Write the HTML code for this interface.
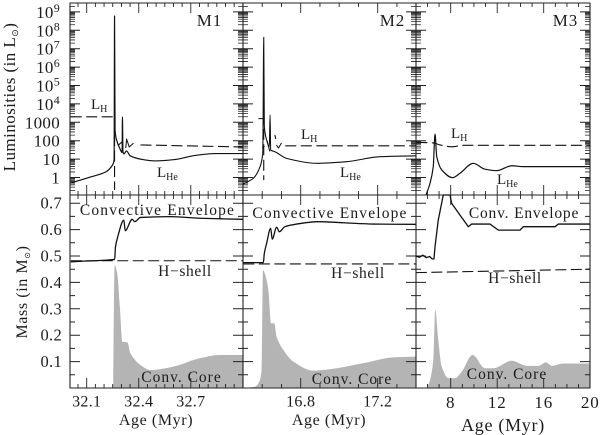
<!DOCTYPE html>
<html lang="en">
<head>
<meta charset="utf-8">
<title>Stellar luminosity and mass evolution</title>
<style>
html,body{margin:0;padding:0;background:#fff;width:600px;height:435px;overflow:hidden}
svg{display:block;position:absolute;left:0;top:0}
text{font-family:"Liberation Serif",serif;fill:#1c1c1c}
</style>
</head>
<body>
<svg id="chart" width="600" height="435" viewBox="0 0 600 435" xmlns="http://www.w3.org/2000/svg"></svg>
<script>
/* ---------- tick data ---------- */
const lumPowers = [0,1,2,3,4,5,6,7,8,9];
const lumLabels = ["1","10","100","1000","10|4","10|5","10|6","10|7","10|8","10|9"];
const massMajor = [0.1,0.2,0.3,0.4,0.5,0.6,0.7];
const m1XLabels = [32.1,32.4,32.7];
const m2XLabels = [16.8,17.2];
const m3XLabels = [8,12,16,20];

/* ---------- M1 series (log L in Lsun, mass in Msun, age in Myr) ---------- */
const m1HeAge = [32.008,32.123,32.209,32.249,32.258,32.2606,32.2634,32.272,32.295,32.304,32.306,32.309,32.315,32.329,32.352,32.41,32.496,32.61,32.725,32.84,33.0];
const m1HeLog = [-0.30,0.03,0.30,0.68,0.95,8.78,2.58,2.04,1.49,1.35,3.29,1.40,1.28,1.44,1.17,1.0,0.9,0.98,1.2,1.3,1.3];
const m1HAge = [32.008,32.2606,32.2606,null,32.281,32.306,null,32.41,33.0];
const m1HLog = [3.30,3.30,-0.68,null,1.75,1.95,null,1.77,1.66];
const m1LoopAge = [32.325,32.33,32.345,32.37];
const m1LoopLog = [1.6,2.09,1.66,1.87];
const m1EnvAge = [32.008,32.1,32.2,32.261,32.266,32.279,32.314,32.322,32.362,32.377,32.41,32.582,32.754,33.0];
const m1EnvMass = [0.478,0.481,0.484,0.487,0.535,0.573,0.636,0.596,0.639,0.630,0.646,0.649,0.643,0.639];
const m1ShellAge = [32.008,33.0];
const m1ShellMass = [0.482,0.482];
const m1CoreAge = [32.253,32.261,32.276,32.291,32.306,32.335,32.352,32.41,32.467,32.599,32.754,32.868,33.0];
const m1CoreMass = [0,0.466,0.434,0.308,0.175,0.173,0.131,0.087,0.068,0.081,0.113,0.125,0.125];

/* ---------- M2 series ---------- */
const m2HeAge = [16.502,16.554,16.589,16.603,16.608,16.611,16.623,16.637,16.641,16.644,16.652,16.666,16.727,16.883,17.039,17.212,17.399];
const m2HeLog = [-0.35,-0.04,0.59,1.32,7.62,2.76,2.04,1.67,3.4,1.49,1.45,1.4,1.04,0.77,0.86,1.13,1.18];
const m2HAge = [16.58,16.608,16.608,null,16.60,16.612,null,16.625,16.64,null,16.666,16.67,null,16.72,17.399];
const m2HLog = [3.2,3.2,-0.14,null,1.6,1.7,null,2.0,1.4,null,2.31,2.09,null,1.72,1.72];
const m2LoopAge = [16.674,16.685,16.70];
const m2LoopLog = [1.77,1.6,1.88];
const m2EnvAge = [16.502,16.606,16.611,16.623,16.644,16.652,16.675,16.689,16.718,16.779,16.891,17.021,17.177,17.399];
const m2EnvMass = [0.475,0.475,0.51,0.548,0.605,0.564,0.609,0.592,0.611,0.621,0.63,0.626,0.621,0.62];
const m2ShellAge = [16.502,17.399];
const m2ShellMass = [0.47,0.47];
const m2CoreAge = [16.5,16.563,16.585,16.597,16.604,16.616,16.632,16.646,16.663,16.675,16.71,16.762,16.865,16.952,17.125,17.281,17.399];
const m2CoreMass = [0,0.005,0.024,0.068,0.447,0.428,0.371,0.245,0.245,0.194,0.144,0.1,0.066,0.071,0.094,0.116,0.119];

/* ---------- M3 series ---------- */
const m3HeAge = [5.875,6.22,6.5,6.65,6.8,7.23,8.17,8.8,9.94,10.95,11.96,13.25,14.25,20];
const m3HeLog = [-0.95,-0.32,0.59,2.36,1.13,0.41,-0.01,0.23,0.77,0.45,0.37,0.64,0.59,0.59];
const m3HAge = [5.05,6.5,7.08,8.09,9.08,20];
const m3HLog = [1.91,1.88,1.77,1.67,1.75,1.75];
const m3EnvAge = [5.0,5.3,5.6,5.9,6.2,6.4,6.56,6.65,6.93,7.36,7.94,8.08,8.8,9.52,9.8,11.38,12.1,13.96,14.25,16.97,17.26,20];
const m3EnvMass = [0.5,0.495,0.503,0.494,0.498,0.489,0.489,0.535,0.636,0.731,0.731,0.70,0.655,0.611,0.621,0.621,0.598,0.598,0.611,0.611,0.621,0.621];
const m3ShellAge = [5.0,20];
const m3ShellMass = [0.437,0.45];
const m3CoreAge = [5.93,6.22,6.5,6.67,6.93,7.23,7.8,8.37,8.95,9.89,10.95,11.66,13.25,14.54,15.53,16.2,16.69,17.69,20];
const m3CoreMass = [0,0.03,0.106,0.295,0.182,0.081,0.037,0.037,0.062,0.125,0.075,0.075,0.103,0.084,0.084,0.097,0.084,0.093,0.093];

/* ---------- axis functions ---------- */
const xM1 = a => 86.7 + (a - 32.1) * 173.5;
const xM2 = a => 300.7 + (a - 16.8) * 192.5;
const xM3 = a => 450.7 + (a - 8) * 11.625;
const yLum = v => 177.5 - v * 18.4;
const yMass = m => 388 - m * 264;

const svg = document.getElementById('chart');
const NS = 'http://www.w3.org/2000/svg';

function addPath(d, name, stroke, width, dash, fill) {
  const el = document.createElementNS(NS, 'path');
  
  
  el.setAttribute('d', d);
  el.setAttribute('stroke', stroke);
  el.setAttribute('stroke-width', width);
  el.setAttribute('fill', fill || 'none');
  el.setAttribute('stroke-linejoin', 'round');
  if (dash) el.setAttribute('stroke-dasharray', dash);
  svg.appendChild(el);
  return el;
}
function addText(x, y, str, size, anchor, name, spacing) {
  const el = document.createElementNS(NS, 'text');
  
  
  el.setAttribute('x', x);
  el.setAttribute('y', y);
  el.setAttribute('font-size', size);
  el.setAttribute('text-anchor', anchor);
  if (spacing) el.setAttribute('letter-spacing', spacing);
  el.textContent = str;
  svg.appendChild(el);
  return el;
}
function addSub(parent, str, size, dy) {
  const el = document.createElementNS(NS, 'tspan');
  el.setAttribute('font-size', size);
  el.setAttribute('dy', dy);
  el.textContent = str;
  parent.appendChild(el);
  return el;
}
function linePath(xs, ys, sx, sy) {
  let d = '', pen = false;
  xs.forEach((a, i) => {
    if (a === null) { pen = false; return; }
    d += (pen ? 'L' : 'M') + sx(a).toFixed(2) + ' ' + sy(ys[i]).toFixed(2);
    pen = true;
  });
  return d;
}
/* monotone cubic through the data points: smooth, with no overshoot at spikes */
function smoothPath(xs, ys, sx, sy) {
  const px = xs.map(sx), py = ys.map(sy), n = px.length;
  const slope = [], tan = [];
  for (let i = 0; i < n - 1; i++) slope.push((py[i + 1] - py[i]) / (px[i + 1] - px[i]));
  for (let i = 0; i < n; i++) {
    if (i === 0) tan.push(slope[0]);
    else if (i === n - 1) tan.push(slope[n - 2]);
    else if (slope[i - 1] * slope[i] <= 0) tan.push(0);
    else {
      const a = Math.abs(slope[i - 1]), b = Math.abs(slope[i]);
      tan.push(Math.sign(slope[i]) * 2 * a * b / (a + b));
    }
  }
  let d = 'M' + px[0].toFixed(2) + ' ' + py[0].toFixed(2);
  for (let i = 0; i < n - 1; i++) {
    const h = (px[i + 1] - px[i]) / 3;
    d += 'C' + (px[i] + h).toFixed(2) + ' ' + (py[i] + tan[i] * h).toFixed(2) + ' ' +
         (px[i + 1] - h).toFixed(2) + ' ' + (py[i + 1] - tan[i + 1] * h).toFixed(2) + ' ' +
         px[i + 1].toFixed(2) + ' ' + py[i + 1].toFixed(2);
  }
  return d;
}
function corePath(xs, ys, sx, sy, endAge) {
  return smoothPath(xs, ys, sx, sy) + 'L' + sx(endAge).toFixed(2) + ' ' + sy(0) + 'L' + sx(xs[0]).toFixed(2) + ' ' + sy(0) + 'Z';
}

/* ---------- fills first ---------- */
addPath(corePath(m1CoreAge, m1CoreMass, xM1, yMass, 33.0), 'm1-convective-core', 'none', 0, null, '#b4b4b4');
addPath(corePath(m2CoreAge, m2CoreMass, xM2, yMass, 17.399), 'm2-convective-core', 'none', 0, null, '#b4b4b4');
addPath(corePath(m3CoreAge, m3CoreMass, xM3, yMass, 20), 'm3-convective-core', 'none', 0, null, '#b4b4b4');

/* ---------- frames and ticks ---------- */
const L = 70, B1 = 243, B2 = 416, R = 590, T = 3, MID = 195, BOT = 388;
addPath(`M${L} ${T}H${R}V${BOT}H${L}Z`, 'plot-frame', '#222', 1.1);
addPath(`M${L} ${MID}H${R}`, 'panel-divider-horizontal', '#222', 1.1);
addPath(`M${B1} ${T}V${BOT}M${B2} ${T}V${BOT}`, 'panel-dividers-vertical', '#222', 1.1);

let lumMinor = '', lumMaj = '';
[L, B1, B2, R].forEach((x, idx) => {
  lumPowers.concat([-1]).forEach(p => {
    const y = yLum(p);
    if (p >= 0) {
      if (idx < 3) lumMaj += `M${x} ${y}h10`;
      if (idx > 0) lumMaj += `M${x} ${y}h-10`;
    }
    for (let k = 2; k <= 9; k++) {
      const ym = yLum(p + Math.log10(k));
      if (ym < T || ym > MID) continue;
      if (idx < 3) lumMinor += `M${x} ${ym.toFixed(2)}h5`;
      if (idx > 0) lumMinor += `M${x} ${ym.toFixed(2)}h-5`;
    }
  });
});
addPath(lumMinor, 'luminosity-minor-ticks', '#222', 0.8);
addPath(lumMaj, 'luminosity-major-ticks', '#222', 1);

let massT = '';
[L, B1, B2, R].forEach((x, idx) => {
  for (let i = 1; i <= 14; i++) {
    const m = i * 0.05, y = yMass(m), len = i % 2 === 0 ? 10 : 5;
    if (idx < 3) massT += `M${x} ${y.toFixed(2)}h${len}`;
    if (idx > 0) massT += `M${x} ${y.toFixed(2)}h-${len}`;
  }
});
addPath(massT, 'mass-ticks', '#222', 1);

function xTicks(sx, start, end, step, majorEvery, phase, name) {
  let d = '';
  const n = Math.round((end - start) / step);
  for (let i = 0; i <= n; i++) {
    const x = sx(start + i * step).toFixed(2);
    const len = (i - phase) % majorEvery === 0 ? 10 : 4;
    d += `M${x} ${T}v${len}M${x} ${MID}v-${len}M${x} ${MID}v${len}M${x} ${BOT}v-${len}`;
  }
  addPath(d, name, '#222', 0.9);
}
xTicks(xM1, 32.05, 33.0, 0.05, 6, 1, 'm1-age-ticks');
xTicks(xM2, 16.6, 17.3, 0.1, 4, 2, 'm2-age-ticks');
xTicks(xM3, 6, 19, 1, 4, 2, 'm3-age-ticks');

/* ---------- series ---------- */
const DASH = '11 4.5';
addPath(linePath(m1HAge, m1HLog, xM1, yLum), 'm1-hydrogen-luminosity-line', '#111', 1.1, DASH);
addPath(linePath(m1LoopAge, m1LoopLog, xM1, yLum), 'm1-hydrogen-luminosity-loop', '#111', 1);
addPath(smoothPath(m1HeAge, m1HeLog, xM1, yLum), 'm1-helium-luminosity-line', '#111', 1.2);
addPath(linePath(m1ShellAge, m1ShellMass, xM1, yMass), 'm1-h-shell-line', '#111', 1.1, DASH);
addPath(smoothPath(m1EnvAge, m1EnvMass, xM1, yMass), 'm1-convective-envelope-line', '#111', 1.3);

addPath(linePath(m2HAge, m2HLog, xM2, yLum), 'm2-hydrogen-luminosity-line', '#111', 1.1, DASH);
addPath(linePath(m2LoopAge, m2LoopLog, xM2, yLum), 'm2-hydrogen-luminosity-loop', '#111', 1);
addPath(smoothPath(m2HeAge, m2HeLog, xM2, yLum), 'm2-helium-luminosity-line', '#111', 1.1);
addPath(linePath(m2ShellAge, m2ShellMass, xM2, yMass), 'm2-h-shell-line', '#111', 1.1, DASH);
addPath(smoothPath(m2EnvAge, m2EnvMass, xM2, yMass), 'm2-convective-envelope-line', '#111', 1.3);

addPath(smoothPath(m3HAge, m3HLog, xM3, yLum), 'm3-hydrogen-luminosity-line', '#111', 1.1, DASH);
addPath(smoothPath(m3HeAge, m3HeLog, xM3, yLum), 'm3-helium-luminosity-line', '#111', 1.2);
addPath(linePath(m3ShellAge, m3ShellMass, xM3, yMass), 'm3-h-shell-line', '#111', 1.1, DASH);
addPath(linePath(m3EnvAge, m3EnvMass, xM3, yMass), 'm3-convective-envelope-line', '#111', 1.3);

/* ---------- tick labels ---------- */
lumPowers.forEach((p, i) => {
  const parts = lumLabels[i].split('|');
  if (parts.length === 2) {
    const t = addText(60, yLum(p) + 6, parts[0], 17, 'end', 'luminosity-tick-label', '0.3');
    addSub(t, parts[1], 12, -6);
  } else {
    addText(60, yLum(p) + 6, parts[0], 17, 'end', 'luminosity-tick-label', '0.3');
  }
});
massMajor.forEach(m => {
  addText(62, yMass(m) + 5.5, m.toFixed(1), 16.5, 'end', 'mass-tick-label', '0.3');
});
m1XLabels.forEach(a => { addText(xM1(a), 406.5, a.toFixed(1), 16, 'middle', 'm1-age-tick-label', '0.3'); });
m2XLabels.forEach(a => { addText(xM2(a), 406.5, a.toFixed(1), 16, 'middle', 'm2-age-tick-label', '0.3'); });
m3XLabels.forEach(a => { addText(xM3(a), 408, String(a), 17, 'middle', 'm3-age-tick-label', '0.8'); });

/* ---------- titles ---------- */
addText(156, 425, 'Age (Myr)', 16, 'middle', 'm1-x-axis-title', '0.6');
addText(329, 425, 'Age (Myr)', 16, 'middle', 'm2-x-axis-title', '0.6');
addText(503, 431, 'Age (Myr)', 18, 'middle', 'm3-x-axis-title', '0.7');

const yt1 = addText(0, 0, 'Luminosities (in L', 17, 'middle', 'luminosity-axis-title', '0.45');
yt1.setAttribute('transform', 'translate(15,97) rotate(-90)');
addSub(yt1, '\u2299', 9, 3);
addSub(yt1, ')', 17, -3);

const yt2 = addText(0, 0, 'Mass (in M', 16, 'middle', 'mass-axis-title', '0.6');
yt2.setAttribute('transform', 'translate(27,292) rotate(-90)');
addSub(yt2, '\u2299', 8, 3);
addSub(yt2, ')', 16, -3);

/* ---------- annotations ---------- */
addText(222, 26, 'M1', 17, 'end', 'm1-panel-label', '0.8');
addText(405, 26, 'M2', 17, 'end', 'm2-panel-label', '0.8');
addText(578, 26, 'M3', 17, 'end', 'm3-panel-label', '0.8');

function lumLabel(x, y, sub, name) {
  const t = addText(x, y, 'L', 15, 'start', name);
  addSub(t, sub, 10, 3);
}
lumLabel(91, 109, 'H', 'm1-lh-label');
lumLabel(157, 177, 'He', 'm1-lhe-label');
lumLabel(301, 139, 'H', 'm2-lh-label');
lumLabel(340, 177, 'He', 'm2-lhe-label');
lumLabel(451, 138, 'H', 'm3-lh-label');
lumLabel(497, 184, 'He', 'm3-lhe-label');

addText(157.5, 215, 'Convective Envelope', 15.5, 'middle', 'm1-convective-envelope-label', '1.17');
addText(330, 218, 'Convective Envelope', 15.5, 'middle', 'm2-convective-envelope-label', '1.17');
addText(524, 218, 'Conv. Envelope', 15.5, 'middle', 'm3-convective-envelope-label', '0.82');
addText(185, 276, 'H\u2212shell', 15.5, 'middle', 'm1-h-shell-label', '0.65');
addText(358, 278, 'H\u2212shell', 15.5, 'middle', 'm2-h-shell-label', '0.65');
addText(515, 283, 'H\u2212shell', 15.5, 'middle', 'm3-h-shell-label', '0.65');
addText(181.5, 382, 'Conv. Core', 15.5, 'middle', 'm1-conv-core-label', '1');
addText(352, 384, 'Conv. Core', 15.5, 'middle', 'm2-conv-core-label', '1');
addText(507, 379, 'Conv. Core', 15.5, 'middle', 'm3-conv-core-label', '1');
</script>
</body>
</html>
